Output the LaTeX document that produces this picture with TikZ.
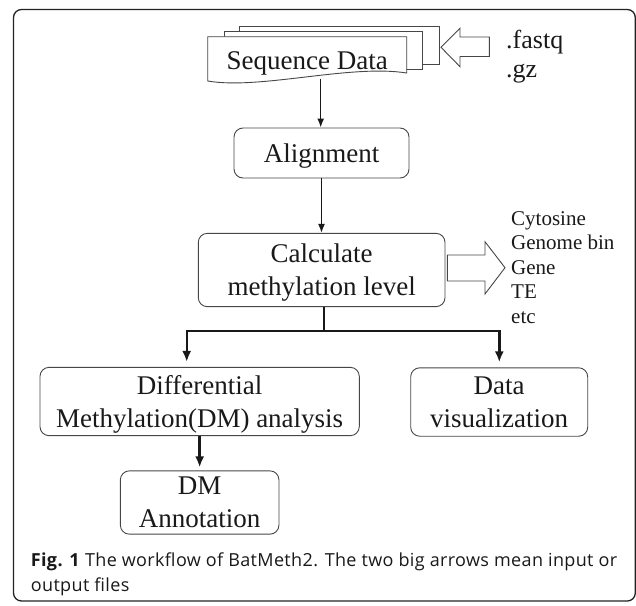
\documentclass[tikz,border=0pt]{standalone}
\usepackage{fontspec}
\setmainfont{Liberation Serif}
\newfontfamily\capfont[LetterSpace=2]{Open Sans}
\usetikzlibrary{arrows.meta}

\definecolor{rahmen}{RGB}{35,35,35}
\definecolor{linie}{RGB}{70,70,70}
\definecolor{schrift}{RGB}{25,25,25}

\begin{document}
\begin{tikzpicture}[
      x=1pt, y=-1pt,
      every node/.style={
        inner sep=0pt,
        text=schrift
      },
      stepbox/.style={
        draw=linie,
        line width=0.9pt,
        rounded corners=9pt,
        align=center,
        text depth=0pt,
        font=\fontsize{27}{33}\selectfont
      },
      page/.style={draw=linie, line width=0.9pt, fill=white},
      bigarrow/.style={draw=linie, line width=0.9pt, fill=white, line join=miter},
      flow/.style={line width=1.5pt, schrift, -{Latex[length=9pt,width=7pt]}},
      branch/.style={line width=2.4pt, schrift, line join=miter, -{Latex[length=11pt,width=9pt]}},
      listtext/.style={anchor=base west, font=\fontsize{21}{24.6}\selectfont}
    ]

      \useasboundingbox (0,0) rectangle (636,605);

      % Rahmen
      \draw [rahmen, line width=1.3pt, rounded corners=8pt] (13.5,9.5) rectangle (635.3,601);

      % Stapel
      \draw [page] (239,26.7) rectangle (439.3,64);
      \draw [page] (224,31.7) rectangle (422.7,69.3);
      \draw [page] (207.7,36.7) -- (406.7,36.7) -- (406.7,73)
        .. controls (350,64) and (260,90) .. (207.7,81) -- cycle;
      \node [anchor=base, font=\fontsize{27}{33}\selectfont] (seq) at (307.2,69.3) {Sequence Data};
      \coordinate (seqbot) at (320.7,78.5);

      % Eingabe
      \draw [bigarrow] (489.3,37) -- (460,37) -- (460,28.3) -- (441,47.3)
        -- (460,66.7) -- (460,56.5) -- (489.3,56.5) -- cycle;
      \node [anchor=base west, font=\fontsize{26}{29}\selectfont] (fastq) at (506,48.3) {.fastq};
      \node [anchor=base west, font=\fontsize{26}{29}\selectfont] (gz) at (506,77.3) {.gz};

      % Boxen
      \node [stepbox, minimum width=175pt, minimum height=50pt] (align) at (321.5,153) {Alignment};
      \node [stepbox, minimum width=246.7pt, minimum height=73.3pt] (calc) at (321.65,270) {Calculate\\methylation level};
      \node [stepbox, minimum width=319.3pt, minimum height=68.3pt] (dm) at (199.65,401.5) {Differential\\Methylation(DM) analysis};
      \node [stepbox, minimum width=177pt, minimum height=68.4pt] (vis) at (499.2,402) {Data\\visualization};
      \node [stepbox, minimum width=158.6pt, minimum height=63.3pt] (annot) at (199.65,502.5) {DM\\Annotation};

      % Ausgabe
      \draw [bigarrow] (447.3,255) -- (485,255) -- (485,241.7) -- (505,267.7)
        -- (485,294) -- (485,281) -- (447.3,281) -- cycle;
      \foreach \txt [count=\i] in {Cytosine, Genome bin, Gene, TE, etc}
      { \node [listtext] (out\i) at (511,{225+24.6*(\i-1)}) {\txt};
      }

      % Pfeile
      \draw [flow] (seqbot) -- (seqbot |- align.north);
      \draw [flow] (align.south) -- (align.south |- calc.north);
      \coordinate (split) at (324,331);
      \coordinate (links) at (186.7,331);
      \coordinate (rechts) at (499.3,331);
      \draw [branch, shorten >=5pt] (split |- calc.south) -- (split) -- (links) -- (links |- dm.north);
      \draw [branch, shorten >=5pt] (split) -- (rechts) -- (rechts |- vis.north);
      \draw [branch, shorten >=3pt] (dm.south) -- (annot.north);

      % Legende
      \node [anchor=north west, align=left, font=\capfont\fontsize{18}{25}\selectfont] (caption) at (30.7,553)
        {\textbf{Fig. 1} The workflow of BatMeth2. The two big arrows mean input or\\output files};
    \end{tikzpicture}
\end{document}
